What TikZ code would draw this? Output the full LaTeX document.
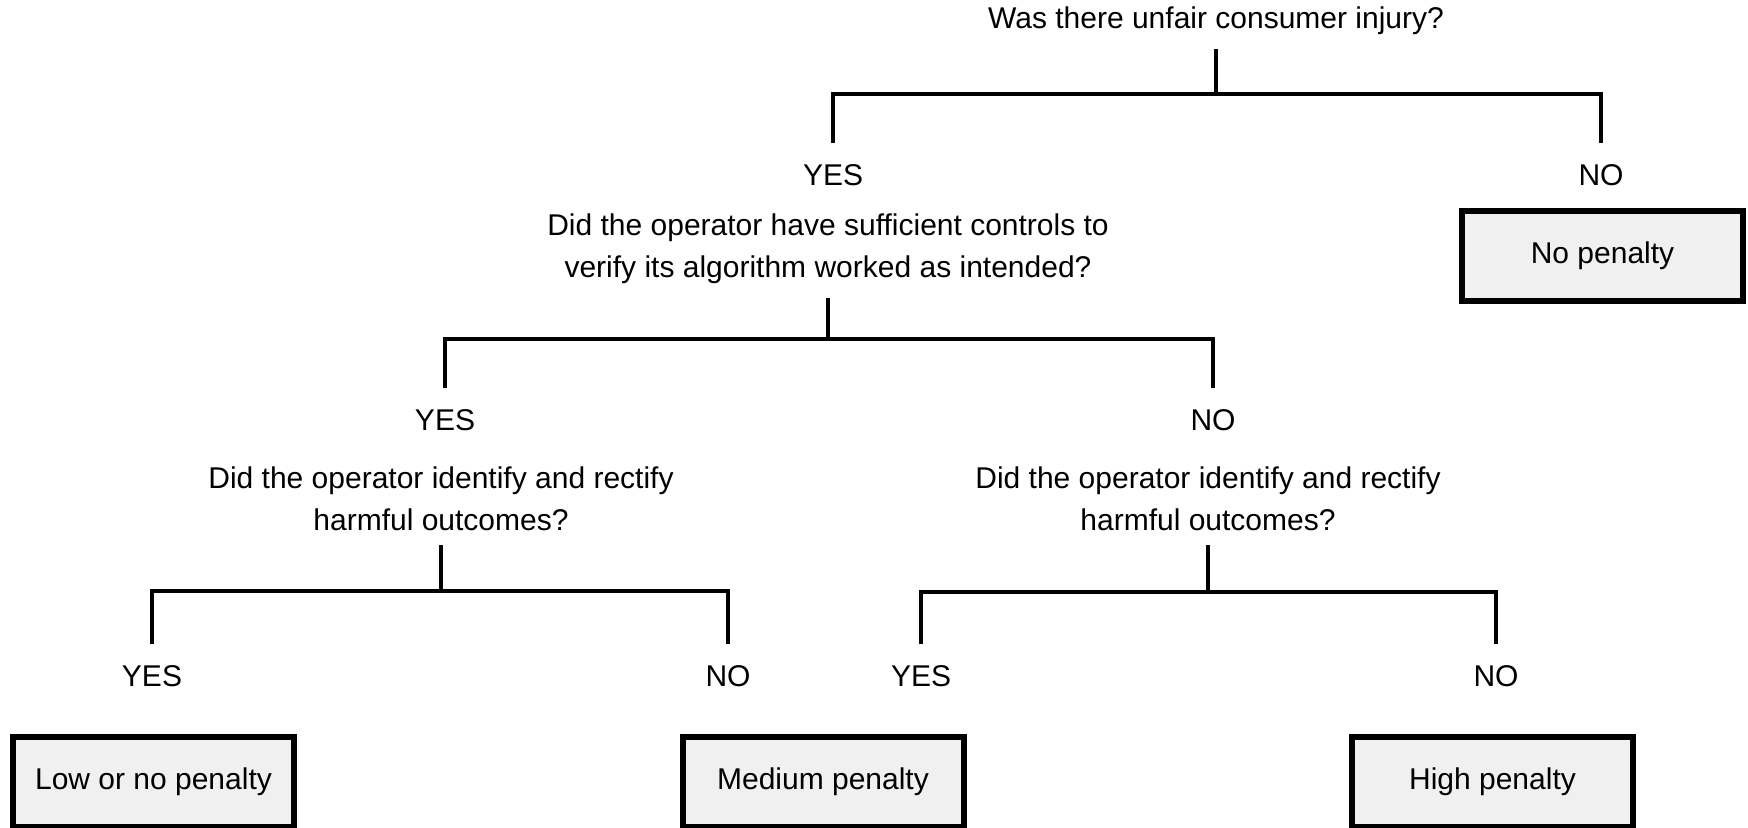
\documentclass[tikz,border=0pt]{standalone}
\usepackage{fontspec}
\setmainfont{Liberation Sans}
\usetikzlibrary{positioning}
\definecolor{boxgray}{HTML}{F0F0F0}

\begin{document}
\begin{tikzpicture}[x=0.5pt, y=-0.5pt, line width=2pt]
	\tikzstyle{question} = [align=center, inner sep=6pt, font=\fontsize{15}{21}\selectfont]
	\tikzstyle{answer} = [minimum height=30pt, inner sep=0pt, font=\fontsize{15}{17}\selectfont]
	\tikzstyle{outcome} = [draw, line width=3pt, fill=boxgray, anchor=north, minimum width=140.5pt, minimum height=45pt, font=\fontsize{15}{17}\selectfont]

	\useasboundingbox (0,0) rectangle (1748,827);

	\path
	node[question] (q1) at (1216,21) {Was there unfair consumer injury?}
	coordinate (b1) at (1216,94)
	node[answer] (yes1) at (833,175) {YES}
	node[answer] (no1) at (1601,175) {NO}
	node[outcome] (nopen) at (1602.5,208) {No penalty}

	node[question] (q2) at (828,249) {Did the operator have sufficient controls to\\verify its algorithm worked as intended?}
	coordinate (b2) at (828,339)
	node[answer] (yes2) at (445,420) {YES}
	node[answer] (no2) at (1213,420) {NO}

	node[question] (q3) at (441,499) {Did the operator identify and rectify\\harmful outcomes?}
	coordinate (b3) at (441,591)
	node[answer] (yes3) at (152,676) {YES}
	node[answer] (no3) at (728,676) {NO}

	node[question] (q4) at (1208,499) {Did the operator identify and rectify\\harmful outcomes?}
	coordinate (b4) at (1208,592)
	node[answer] (yes4) at (921,676) {YES}
	node[answer] (no4) at (1496,676) {NO}

	node[outcome] (lowpen) at (153.5,734) {Low or no penalty}
	node[outcome] (medpen) at (823,734) {Medium penalty}
	node[outcome] (highpen) at (1492.5,734) {High penalty};

	\draw (q1) -- (b1);
	\draw (yes1) |- (b1) -| (no1);
	\draw (q2) -- (b2);
	\draw (yes2) |- (b2) -| (no2);
	\draw (q3) -- (b3);
	\draw (yes3) |- (b3) -| (no3);
	\draw (q4) -- (b4);
	\draw (yes4) |- (b4) -| (no4);
\end{tikzpicture}
\end{document}
